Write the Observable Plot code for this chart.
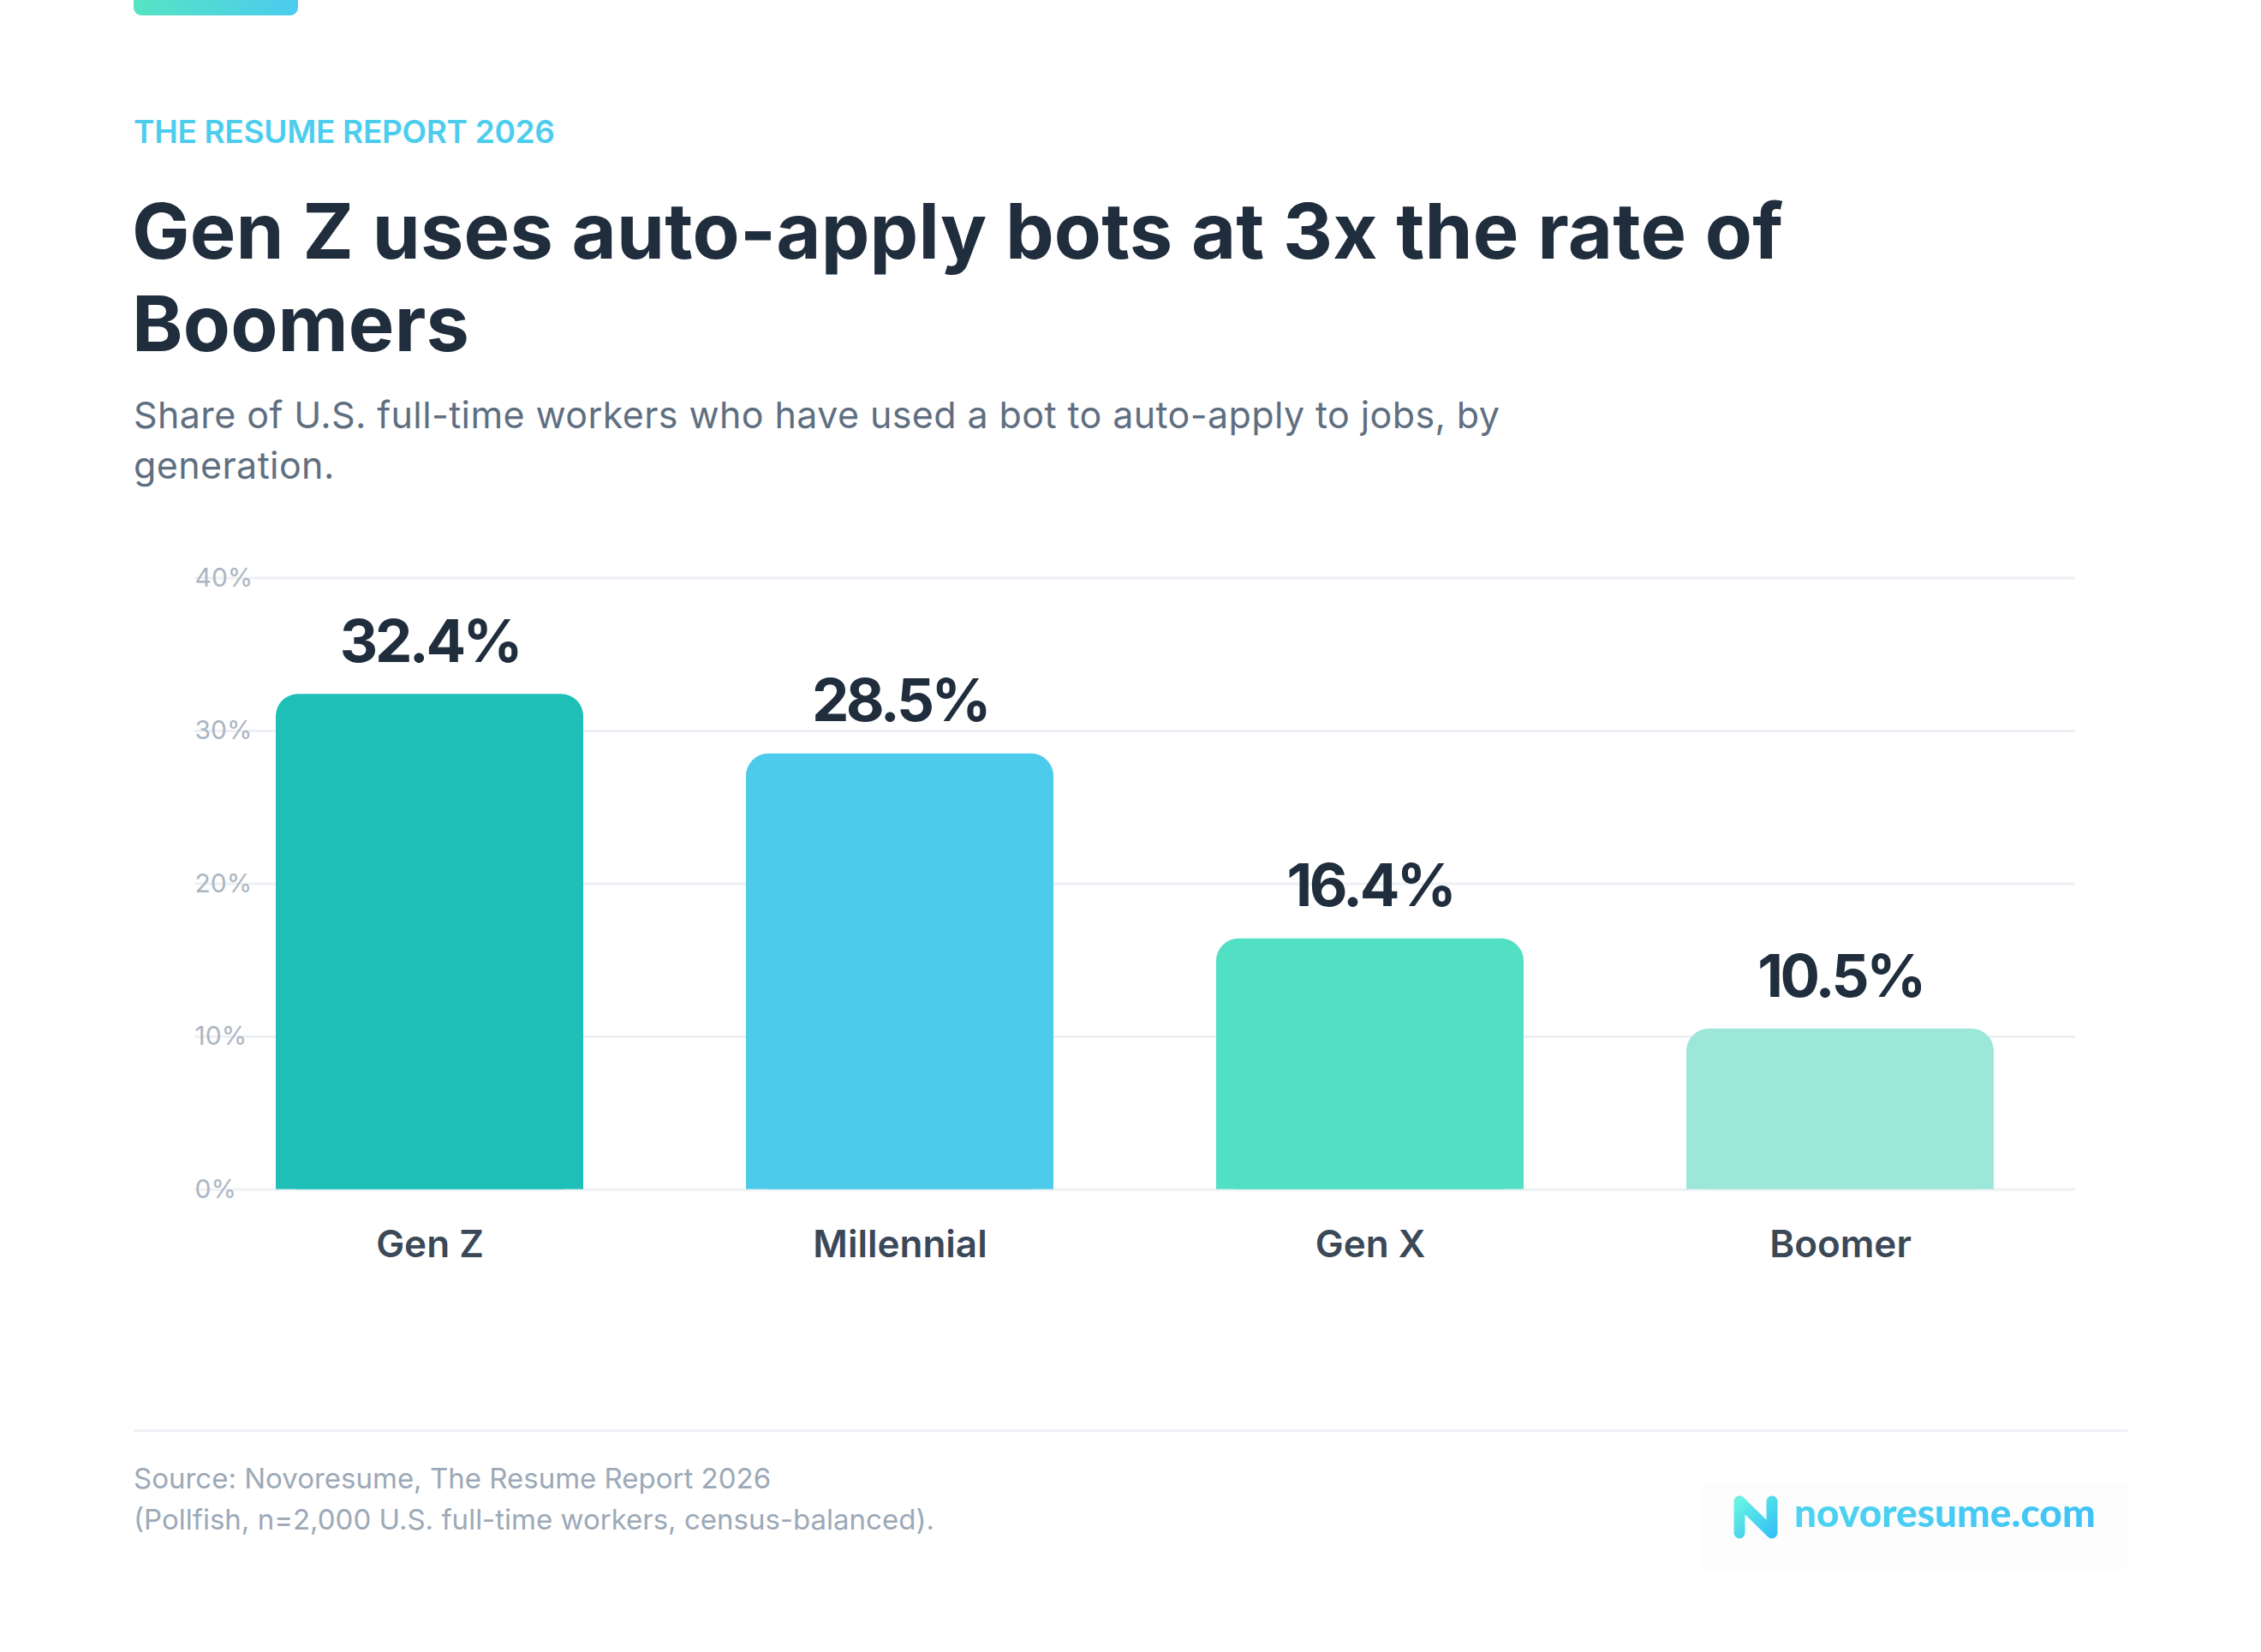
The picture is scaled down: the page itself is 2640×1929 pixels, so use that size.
<!DOCTYPE html>
<html>
<head>
<meta charset="utf-8">
<script src="https://cdn.jsdelivr.net/npm/d3@7"></script>
<script src="https://cdn.jsdelivr.net/npm/@observablehq/plot@0.6"></script>
<style>
  html, body { margin: 0; padding: 0; background: #ffffff; }
  body { width: 2640px; height: 1929px; position: relative; overflow: hidden; font-family: Inter, "Noto Sans", sans-serif; }
  .accent { position: absolute; left: 156px; top: -12px; width: 192px; height: 30px; border-radius: 9px;
            background: linear-gradient(90deg, #55e4c3, #4ccbef); }
  .kicker { position: absolute; left: 156px; top: 135px; font-size: 37px; line-height: 37px; font-weight: 600;
            color: #4ccdee; letter-spacing: -0.3px; white-space: nowrap; }
  .title { position: absolute; left: 154px; top: 216px; font-size: 90px; line-height: 108px; font-weight: 700;
           color: #202d3d; letter-spacing: 0.2px; white-space: nowrap; }
  .subtitle { position: absolute; left: 156px; top: 455px; font-size: 43px; line-height: 59px; font-weight: 400;
              color: #5f6f81; letter-spacing: 0.4px; white-space: nowrap; }
  #chart { position: absolute; left: 0; top: 600px; }
  /* tighter tracking for the bar value labels */
  #chart [font-size="69"], #chart [font-size="69"] text { letter-spacing: -3.5px; }
  .divider { position: absolute; left: 156px; top: 1669px; width: 2328px; height: 3px; background: #eef1f5; }
  .source { position: absolute; left: 156px; top: 1702px; font-size: 33px; line-height: 48px; color: #9ca9b7; white-space: nowrap; }
  .logo { position: absolute; left: 1987px; top: 1731px; width: 497px; height: 102px; background: #fdfdfe; border-radius: 6px; }
  .logo svg { position: absolute; left: 36px; top: 14px; }
  .logo .word { position: absolute; left: 108px; top: 7px; font-family: Lato, "Open Sans", sans-serif; font-weight: 900;
                font-size: 46px; line-height: 56px; white-space: nowrap;
                background: linear-gradient(90deg, #4fd3f0, #3fc3f6); -webkit-background-clip: text; background-clip: text; color: transparent; }
</style>
</head>
<body>
<div class="accent"></div>
<div class="kicker">THE RESUME REPORT 2026</div>
<div class="title">Gen Z uses auto-apply bots at 3x the rate of<br>Boomers</div>
<div class="subtitle">Share of U.S. full-time workers who have used a bot to auto-apply to jobs, by<br>generation.</div>
<div id="chart"></div>
<div class="divider"></div>
<div class="source">Source: Novoresume, The Resume Report 2026<br>(Pollfish, n=2,000 U.S. full-time workers, census-balanced).</div>
<div class="logo">
  <svg width="56" height="56" viewBox="0 0 56 56">
    <defs>
      <linearGradient id="ng" x1="0" y1="0" x2="1" y2="1">
        <stop offset="0" stop-color="#66f2e2"/>
        <stop offset="1" stop-color="#37c3f6"/>
      </linearGradient>
    </defs>
    <path d="M8,45 L8,8 L46,45 L46,8" fill="none" stroke="url(#ng)" stroke-width="13" stroke-linejoin="round" stroke-linecap="round"/>
  </svg>
  <div class="word">novoresume.com</div>
</div>

<script>
// Share of U.S. full-time workers who have used an auto-apply bot, by generation (%)
const generations = ["Gen Z", "Millennial", "Gen X", "Boomer"];
const shares = [32.4, 28.5, 16.4, 10.5];
const barColors = ["#1dbfb6", "#4ccbea", "#52e0c4", "#9de7da"];
const yTicks = [0, 10, 20, 30, 40];

const rows = generations.map((g, i) => ({generation: g, share: shares[i], color: barColors[i]}));
const fmt = v => `${v.toFixed(1)}%`;

const chart = Plot.plot({
  width: 2640,
  height: 900,
  marginTop: 74.5,
  marginBottom: 111.5,
  marginLeft: 227,
  marginRight: 217,
  style: {fontFamily: "Inter, 'Noto Sans', sans-serif", background: "transparent", overflow: "visible"},
  x: {domain: generations, paddingInner: 0.346, paddingOuter: 0.173, label: null},
  y: {domain: [0, 40], label: null},
  marks: [
    // horizontal gridlines
    Plot.ruleY(yTicks, {stroke: "#edf0f4", strokeWidth: 3}),
    // rounded bars, with a square-cornered lower half so only the top is rounded
    Plot.barY(rows, {x: "generation", y: "share", fill: "color", rx: 26, ry: 26}),
    Plot.barY(rows, {x: "generation", y1: 0, y2: d => d.share / 2, fill: "color"}),
    // y tick labels sitting on the gridlines
    Plot.text(yTicks, {y: d => d, frameAnchor: "left", textAnchor: "start", lineAnchor: "middle",
                       text: d => `${d}%`, fill: "#abb6c2", fontSize: 30}),
    // value labels above bars
    Plot.text(rows, {x: "generation", y: "share", text: d => fmt(d.share), fill: "#202d3d",
                     fontSize: 69, fontWeight: 700, lineAnchor: "middle", dy: -60}),
    // category axis
    Plot.axisX({tickSize: 0, tickPadding: 47.5, fontSize: 44, fontWeight: 600, color: "#3a4858", label: null}),
    Plot.axisY({ticks: [], label: null})
  ]
});
document.getElementById("chart").appendChild(chart);
</script>
</body>
</html>
